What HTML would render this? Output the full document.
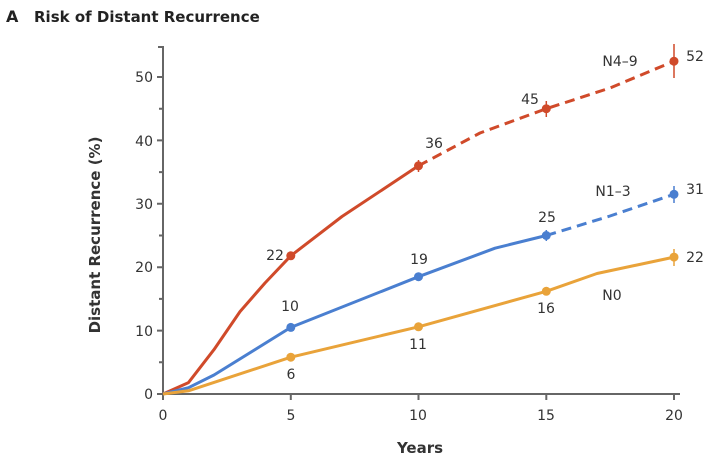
<!DOCTYPE html><html><head><style>body{margin:0;background:#fff}svg{display:block;font-family:"DejaVu Sans","Liberation Sans",sans-serif}</style></head><body>
<svg width="720" height="459" viewBox="0 0 720 459">
<text x="6" y="22" font-size="16" font-weight="bold" fill="#222">A</text>
<text x="34" y="22" font-size="15" font-weight="bold" fill="#222">Risk of Distant Recurrence</text>
<g stroke="#666" stroke-width="2" fill="none">
<path d="M158,47H163V394H680"/>
<path d="M157,394H163M157,330.6H163M157,267.2H163M157,203.8H163M157,140.4H163M157,77H163"/>
<path d="M159,362.3H163M159,298.9H163M159,235.5H163M159,172.1H163M159,108.7H163"/>
<path d="M163,394V400M290.8,394V400M418.5,394V400M546.3,394V400M674,394V400"/>
</g>
<g font-size="14" fill="#333" text-anchor="end">
<text x="153" y="399">0</text><text x="153" y="336">10</text><text x="153" y="272">20</text><text x="153" y="209">30</text><text x="153" y="146">40</text><text x="153" y="82">50</text>
</g>
<g font-size="14" fill="#333" text-anchor="middle">
<text x="163" y="420">0</text><text x="291" y="420">5</text><text x="418" y="420">10</text><text x="546" y="420">15</text><text x="674" y="420">20</text>
<text x="420" y="453" font-weight="bold" font-size="15">Years</text>
<text transform="translate(100,235) rotate(-90)" font-weight="bold" font-size="15">Distant Recurrence (%)</text>
</g>
<g fill="none" stroke-width="3" stroke-linejoin="round">
<path stroke="#d04a2a" d="M163,394L188.5,382.6L214,349.6L240,311.6L265,283L290.8,255.8L342,216.5L418.5,165.8"/>
<path stroke="#d04a2a" stroke-dasharray="10,6" d="M418.5,165.8L480,133L546.3,108.7L610,88L674,61.2"/>
<path stroke="#4a7fd0" d="M163,394L188.5,387.7L214,375L290.8,327.4L418.5,276.7L495,248.2L546.3,235.5"/>
<path stroke="#4a7fd0" stroke-dasharray="10,6" d="M546.3,235.5L610,216L674,194.3"/>
<path stroke="#e9a33a" d="M163,394L188.5,390.8L290.8,357.2L418.5,326.8L546.3,291.3L597,273.5L674,257.1"/>
</g>
<g stroke-width="1.5">
<path stroke="#d04a2a" d="M418.5,160V172M546.3,101V117M674,44V78"/>
<path stroke="#4a7fd0" d="M546.3,230V241M674,186V203"/>
<path stroke="#e9a33a" d="M674,249V266"/>
</g>
<g fill="#d04a2a"><circle cx="290.8" cy="255.8" r="4.5"/><circle cx="418.5" cy="165.8" r="4.5"/><circle cx="546.3" cy="108.7" r="4.5"/><circle cx="674" cy="61.2" r="4.5"/></g>
<g fill="#4a7fd0"><circle cx="290.8" cy="327.4" r="4.5"/><circle cx="418.5" cy="276.7" r="4.5"/><circle cx="546.3" cy="235.5" r="4.5"/><circle cx="674" cy="194.3" r="4.5"/></g>
<g fill="#e9a33a"><circle cx="290.8" cy="357.2" r="4.5"/><circle cx="418.5" cy="326.8" r="4.5"/><circle cx="546.3" cy="291.3" r="4.5"/><circle cx="674" cy="257.1" r="4.5"/></g>
<g font-size="14" fill="#333" text-anchor="middle">
<text x="275" y="260">22</text><text x="434" y="148">36</text><text x="530" y="104">45</text><text x="695" y="61">52</text><text x="620" y="66">N4–9</text>
<text x="290" y="311">10</text><text x="419" y="264">19</text><text x="547" y="222">25</text><text x="695" y="194">31</text><text x="613" y="196">N1–3</text>
<text x="291" y="379">6</text><text x="418" y="349">11</text><text x="546" y="313">16</text><text x="695" y="262">22</text><text x="612" y="300">N0</text>
</g>
</svg></body></html>
